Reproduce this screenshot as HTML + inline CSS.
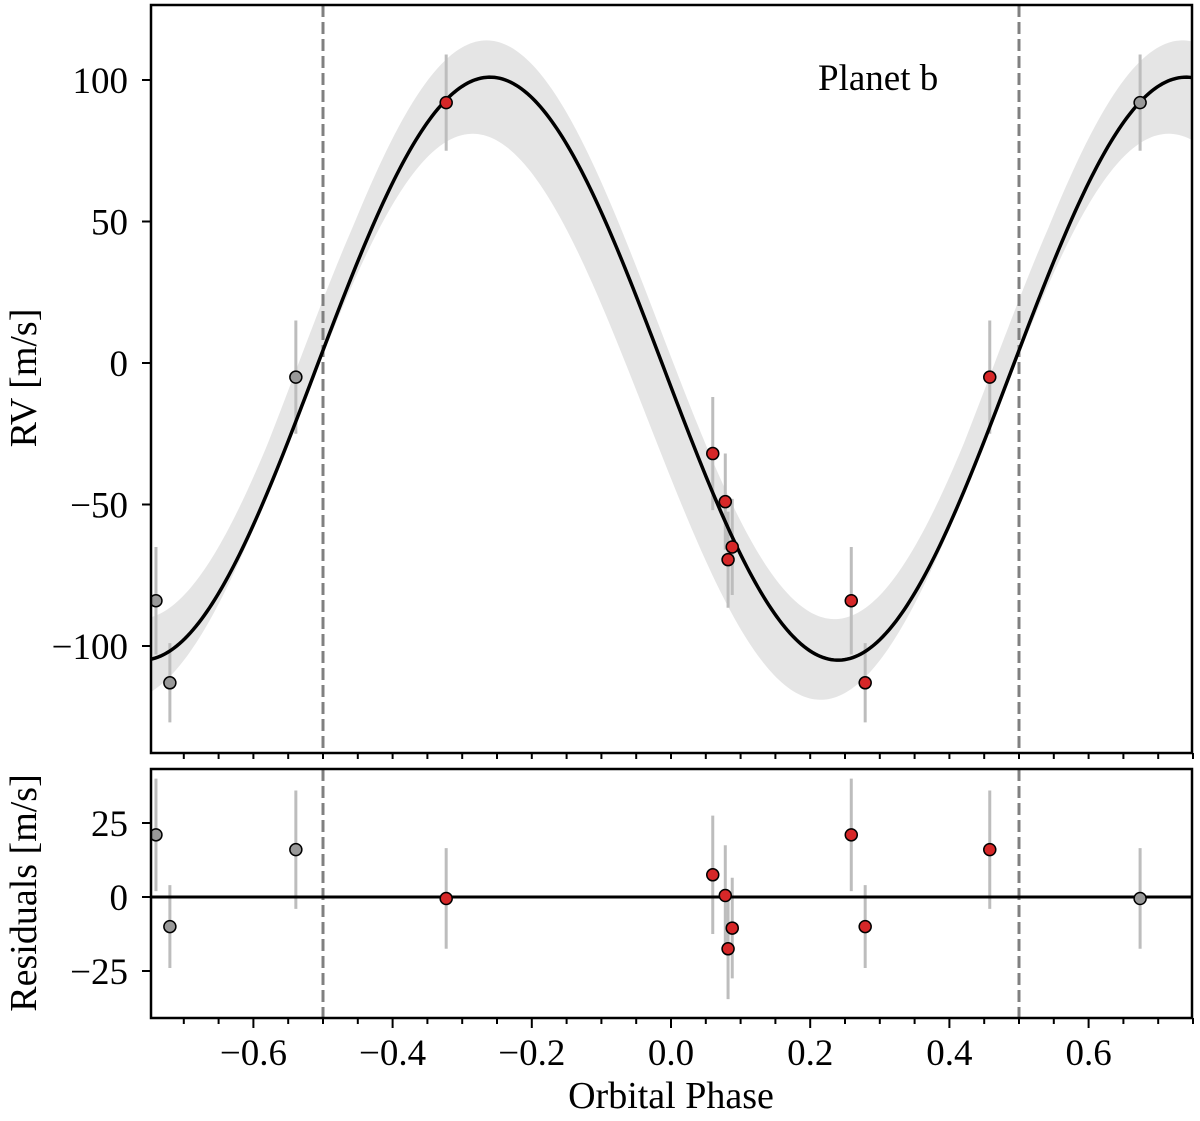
<!DOCTYPE html>
<html><head><meta charset="utf-8"><style>
body{margin:0;background:#fff}
svg text{font-family:"Liberation Serif",serif;fill:#000}
</style></head><body>
<svg id="chart" width="1200" height="1116" xmlns="http://www.w3.org/2000/svg"></svg>
<script>
const phaseRed=[-0.323,0.060,0.078,0.088,0.082,0.259,0.279,0.458];
const rvRed=[92,-32,-49,-65,-69.5,-84,-113,-5];
const errRed=[17,20,17,17,17,19,14,20];
const resRed=[-0.5,7.5,0.5,-10.5,-17.5,21,-10,16];
const phaseGray=[-0.740,-0.720,-0.539,0.674];
const rvGray=[-84,-113,-5,92];
const errGray=[19,14,20,17];
const resGray=[21,-10,16,-0.5];
const modelK=[103];
const modelOffset=[-2];
const modelPeakPhase=[-0.26];
const upperK=[102.25], upperOffset=[11.75], upperPeak=[-0.265];
const lowerK=[100], lowerOffset=[-19], lowerPeak=[-0.285];
const phaseShift=[0.028];
const xTicks=[-0.6,-0.4,-0.2,0.0,0.2,0.4,0.6];
const yTicksTop=[100,50,0,-50,-100];
const yTicksBot=[25,0,-25];

const svg=document.getElementById('chart');
const NS='http://www.w3.org/2000/svg';
const L=151,R=1192,T1=5,B1=753,T2=769,B2=1018;
const X=p=>671+p*696;
const Y1=v=>363-v*2.83;
const Y2=v=>897-v*2.96;
function mk(tag,attrs,parent){const e=document.createElementNS(NS,tag);for(const k in attrs)e.setAttribute(k,attrs[k]);(parent||svg).appendChild(e);return e;}
const cosCurve=(p,o,k,ph)=>o+k*Math.cos(2*Math.PI*(p-ph));
const model=p=>cosCurve(p,modelOffset[0],modelK[0],modelPeakPhase[0]);

const defs=mk('defs',{});
const c1=mk('clipPath',{id:'c1'},defs);mk('rect',{x:L,y:T1,width:R-L,height:B1-T1},c1);
const c2=mk('clipPath',{id:'c2'},defs);mk('rect',{x:L,y:T2,width:R-L,height:B2-T2},c2);

const g1=mk('g',{'clip-path':'url(#c1)'});


let up=[],lo=[],ln=[];
for(let i=0;i<=400;i++){const p=-0.78+1.56*i/400;const m=model(p);const ms=model(p+phaseShift[0]);
 const u=Math.max(cosCurve(p,upperOffset[0],upperK[0],upperPeak[0]),ms,m);
 const d=Math.min(cosCurve(p,lowerOffset[0],lowerK[0],lowerPeak[0]),ms,m);
 up.push(X(p)+','+Y1(u));lo.unshift(X(p)+','+Y1(d));ln.push(X(p)+','+Y1(m));}
const band=mk('polygon',{points:up.concat(lo).join(' '),fill:'#e5e5e5'},g1);


const g2=mk('g',{'clip-path':'url(#c2)'});


[-0.5,0.5].forEach(p=>{
 const d1=mk('line',{x1:X(p),x2:X(p),y1:T1,y2:B1,stroke:'#808080','stroke-width':3,'stroke-dasharray':'12,5'},g1);
 
 
 const d2=mk('line',{x1:X(p),x2:X(p),y1:T2,y2:B2,stroke:'#808080','stroke-width':3,'stroke-dasharray':'12,5'},g2);
 
 
});
function errs(ph,v,e,Y,g){ph.forEach((p,i)=>{const l=mk('line',{x1:X(p),x2:X(p),y1:Y(v[i]+e[i]),y2:Y(v[i]-e[i]),stroke:'#bdbdbd','stroke-width':3},g);
 
 });}
errs(phaseGray,rvGray,errGray,Y1,g1);errs(phaseRed,rvRed,errRed,Y1,g1);
errs(phaseGray,resGray,errGray,Y2,g2);errs(phaseRed,resRed,errRed,Y2,g2);
const ml=mk('polyline',{points:ln.join(' '),fill:'none',stroke:'#000','stroke-width':3.5},g1);


const zl=mk('line',{x1:L,x2:R,y1:Y2(0),y2:Y2(0),stroke:'#000','stroke-width':3},g2);


function pts(ph,v,Y,g,col,name){ph.forEach((p,i)=>{const c=mk('circle',{cx:X(p),cy:Y(v[i]),r:6,fill:col,stroke:'#000','stroke-width':1.5},g);
 
 });}
pts(phaseGray,rvGray,Y1,g1,'#999','rv-point-wrapped');pts(phaseRed,rvRed,Y1,g1,'#d62728','rv-point');
pts(phaseGray,resGray,Y2,g2,'#999','residual-point-wrapped');pts(phaseRed,resRed,Y2,g2,'#d62728','residual-point');
[[T1,B1],[T2,B2]].forEach(([t,b])=>{const r=mk('rect',{x:L,y:t,width:R-L,height:b-t,fill:'none',stroke:'#000','stroke-width':2.5});
 
 });
for(let k=-15;k<=15;k++){const p=k*0.05;const x=X(p);if(x<L-1||x>R+1)continue;
 mk('line',{x1:x,x2:x,y1:B1,y2:B1+6,stroke:'#000','stroke-width':2});
 const major=Math.abs(k)%4===0;
 mk('line',{x1:x,x2:x,y1:B2,y2:B2+(major?10:6),stroke:'#000','stroke-width':2});}
xTicks.forEach(p=>{const t=mk('text',{x:X(p),y:B2+47,'font-size':37,'text-anchor':'middle'});t.textContent=(p<0?'\u2212':'')+Math.abs(p).toFixed(1);
 
 });
yTicksTop.forEach(v=>{mk('line',{x1:L-9,x2:L,y1:Y1(v),y2:Y1(v),stroke:'#000','stroke-width':2});
 const t=mk('text',{x:L-23,y:Y1(v)+13,'font-size':37,'text-anchor':'end'});t.textContent=(v<0?'\u2212':'')+Math.abs(v);
 
 });
yTicksBot.forEach(v=>{mk('line',{x1:L-9,x2:L,y1:Y2(v),y2:Y2(v),stroke:'#000','stroke-width':2});
 const t=mk('text',{x:L-23,y:Y2(v)+13,'font-size':37,'text-anchor':'end'});t.textContent=(v<0?'\u2212':'')+Math.abs(v);
 
 });
function lab(txt,x,y,rot,name){const t=mk('text',{x:x,y:y,'font-size':38,'text-anchor':'middle',transform:rot?`rotate(-90 ${x} ${y})`:''});t.textContent=txt;
 
 }
lab('Orbital Phase',671,1108,false,'x-axis-title');
lab('RV [m/s]',36,378,true,'y-axis-title');
lab('Residuals [m/s]',36,893,true,'residual-axis-title');
const pb=mk('text',{x:818,y:90,'font-size':37});pb.textContent='Planet b';


</script>
</body></html>
